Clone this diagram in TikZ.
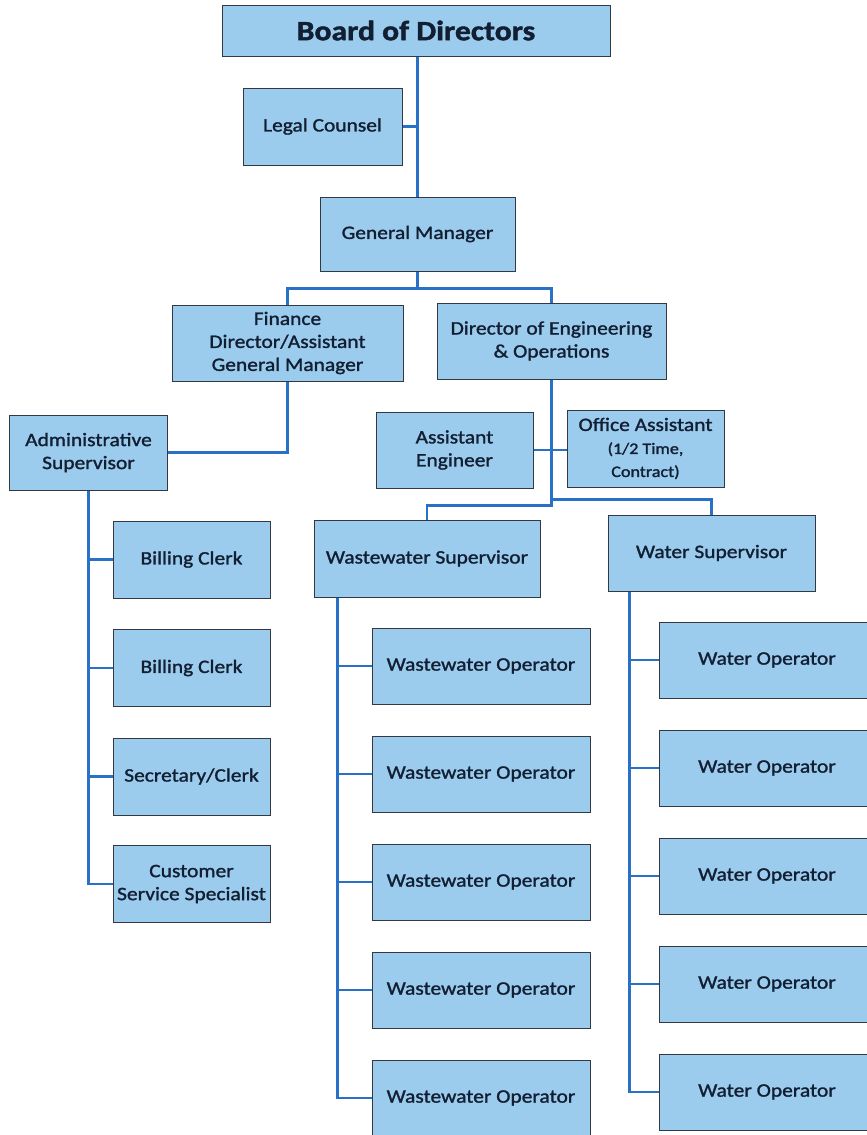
\documentclass[tikz,border=0pt]{standalone}
\usepackage{fontspec}
\setmainfont{Carlito}[FakeStretch=1.13,FakeBold=1.4]
\usepackage{tikz}
\usetikzlibrary{positioning}
\definecolor{boxfill}{rgb}{0.61,0.80,0.93}
\definecolor{boxedge}{rgb}{0.20,0.22,0.26}
\definecolor{linkblue}{rgb}{0.16,0.44,0.78}
\definecolor{ink}{rgb}{0.07,0.12,0.20}
\newcommand{\smallsize}{\fontsize{16bp}{20bp}\selectfont}

\begin{document}
\begin{tikzpicture}[x=1bp,y=-1bp,
  post/.style 2 args={draw=boxedge,line width=1bp,fill=boxfill,text=ink,
    minimum width=#1bp,minimum height=#2bp,inner sep=0pt,align=center,
    font=\fontsize{19bp}{23bp}\selectfont},
  link/.style={draw=linkblue,line width=2.2bp}]

  \useasboundingbox (0,0) rectangle (867,1135);

  % top of the chart
  \node[post={388}{51},font=\fontsize{28bp}{32bp}\selectfont\bfseries] (board) at (416,30.5) {Board of Directors};
  \node[post={159}{77}] (legal) at (322.5,126.5) {Legal Counsel};
  \node[post={195}{74}] (gm) at (417.5,234) {General Manager};
  \node[post={231}{76}] (fin) at (287.5,343) {Finance\\Director/Assistant\\General Manager};
  \node[post={229}{76}] (dir) at (551.5,341) {Director of Engineering\\\& Operations};

  % finance side
  \node[post={157}{75}] (admin) at (88.5,452.5) {Administrative\\Supervisor};
  \node[post={157}{77}] (bc1) at (191.5,559.5) {Billing Clerk};
  \node[post={157}{77}] (bc2) at (191.5,668) {Billing Clerk};
  \node[post={157}{77}] (sec) at (191.5,776.5) {Secretary/Clerk};
  \node[post={157}{77}] (css) at (191.5,884) {Customer\\Service Specialist};

  % engineering side
  \node[post={157}{76}] (ae) at (454.5,450) {Assistant\\Engineer};
  \node[post={157}{77}] (oa) at (645.5,448.5) {Office Assistant\\{\smallsize (1/2 Time,}\\{\smallsize Contract)}};
  \node[post={226}{77}] (wws) at (427,558.5) {Wastewater Supervisor};
  \node[post={207}{76}] (ws) at (711.5,553) {Water Supervisor};

  \node[post={218}{76}] (wwo1) at (481,666) {Wastewater Operator};
  \node[post={218}{76}] (wwo2) at (481,774) {Wastewater Operator};
  \node[post={218}{76}] (wwo3) at (481,882) {Wastewater Operator};
  \node[post={218}{76}] (wwo4) at (481,990) {Wastewater Operator};
  \node[post={218}{76}] (wwo5) at (481,1098) {Wastewater Operator};

  \node[post={216}{76}] (wo1) at (767,660) {Water Operator};
  \node[post={216}{76}] (wo2) at (767,768) {Water Operator};
  \node[post={216}{76}] (wo3) at (767,876) {Water Operator};
  \node[post={216}{76}] (wo4) at (767,984) {Water Operator};
  \node[post={216}{76}] (wo5) at (767,1092) {Water Operator};

  % connectors
  \draw[link] (gm.north) -- (gm.north |- board.south);
  \draw[link] (legal.east) -- (legal.east -| gm.north);
  \draw[link] (gm.south) -- ++(0,17) -| (fin.north);
  \draw[link] (gm.south) -- ++(0,17) -| (dir.north);
  \draw[link] (fin.south) |- (admin.east);

  \draw[link] (admin.south) |- (css.west);
  \draw[link] (admin.south |- bc1.west) -- (bc1.west);
  \draw[link] (admin.south |- bc2.west) -- (bc2.west);
  \draw[link] (admin.south |- sec.west) -- (sec.west);

  \draw[link] (ae.east) -- (ae.east -| oa.west);
  \draw[link] (dir.south) -- ++(0,126) -| (wws.north);
  \draw[link] (dir.south) ++(0,120) -| (ws.north);

  \coordinate (wwt) at ([xshift=24bp]wws.south west);
  \draw[link] (wwt) |- (wwo5.west);
  \draw[link] (wwt |- wwo1.west) -- (wwo1.west);
  \draw[link] (wwt |- wwo2.west) -- (wwo2.west);
  \draw[link] (wwt |- wwo3.west) -- (wwo3.west);
  \draw[link] (wwt |- wwo4.west) -- (wwo4.west);

  \coordinate (wt) at ([xshift=22bp]ws.south west);
  \draw[link] (wt) |- (wo5.west);
  \draw[link] (wt |- wo1.west) -- (wo1.west);
  \draw[link] (wt |- wo2.west) -- (wo2.west);
  \draw[link] (wt |- wo3.west) -- (wo3.west);
  \draw[link] (wt |- wo4.west) -- (wo4.west);

\end{tikzpicture}
\end{document}
